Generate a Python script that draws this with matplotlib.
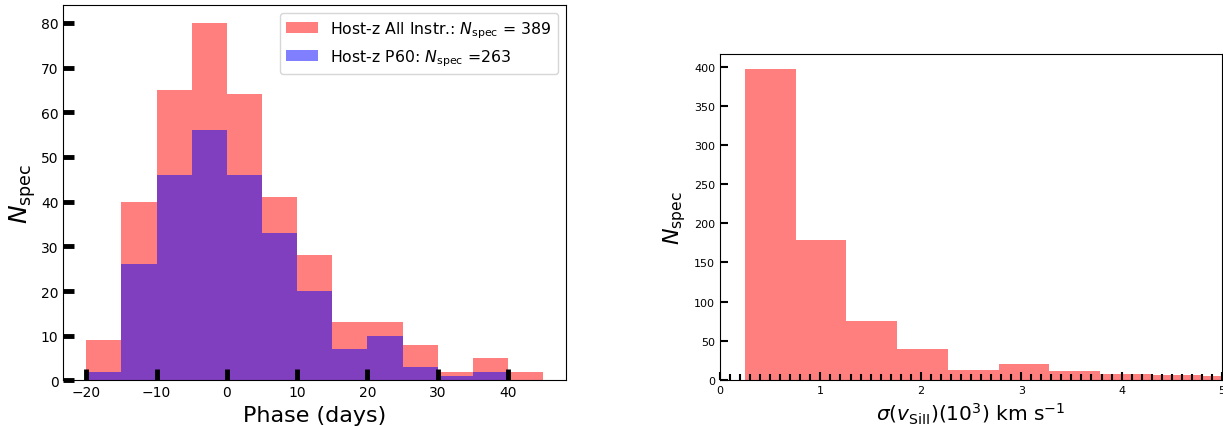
import matplotlib
matplotlib.use("Agg")
import matplotlib.pyplot as plt
from matplotlib.ticker import MultipleLocator
import numpy as np

# Phase histogram (days), 5-day bins
phase_edges = [-20, -15, -10, -5, 0, 5, 10, 15, 20, 25, 30, 35, 40, 45]
counts_all = [9, 40, 65, 80, 64, 41, 28, 13, 13, 8, 2, 5, 2]
counts_p60 = [2, 26, 46, 56, 46, 33, 20, 7, 10, 3, 1, 2, 0]
n_all = 389
n_p60 = 263

# Si II velocity dispersion histogram (10^3 km/s)
sigma_edges = [0.25, 0.755, 1.26, 1.765, 2.27, 2.775, 3.28, 3.785, 4.29, 4.795, 5.30]
counts_sigma = [397, 179, 75, 40, 13, 20, 11, 7, 6, 5]

fig = plt.figure(figsize=(12.23, 4.27), dpi=100)

# ---- left panel: phase distribution ----
ax1 = fig.add_axes([0.0518, 0.1066, 0.4110, 0.8794])
ax1.hist(phase_edges[:-1], bins=phase_edges, weights=counts_all,
         color="red", alpha=0.5,
         label=r"Host-z All Instr.: $N_{\rm spec}$ = %d" % n_all)
ax1.hist(phase_edges[:-1], bins=phase_edges, weights=counts_p60,
         color="blue", alpha=0.5,
         label=r"Host-z P60: $N_{\rm spec}$ =%d" % n_p60)
ax1.xaxis.set_major_locator(MultipleLocator(10))
ax1.yaxis.set_major_locator(MultipleLocator(10))
ax1.tick_params(axis="both", which="major", direction="in", length=8,
                width=3.5, labelsize=10)
ax1.set_xlabel("Phase (days)", fontsize=16)
ax1.set_ylabel(r"$N_{\rm spec}$", fontsize=18, labelpad=2)
ax1.legend(loc="upper right", fontsize=11.3)

# ---- right panel: sigma(v_SiII) distribution ----
ax2 = fig.add_axes([0.5887, 0.1080, 0.4105, 0.7640])
ax2.hist(sigma_edges[:-1], bins=sigma_edges, weights=counts_sigma,
         color="red", alpha=0.5)
ax2.set_xlim(0, 5)
ax2.xaxis.set_major_locator(MultipleLocator(1))
ax2.xaxis.set_minor_locator(MultipleLocator(0.1))
ax2.yaxis.set_major_locator(MultipleLocator(50))
ax2.tick_params(axis="both", which="major", direction="in", length=6,
                width=1.5, labelsize=8)
ax2.tick_params(axis="x", which="minor", direction="in", length=4, width=1.5)
ax2.set_xlabel(r"$\sigma(v_{\rm SiII})(10^3)$ km s$^{-1}$", fontsize=14.5)
ax2.set_ylabel(r"$N_{\rm spec}$", fontsize=16)

fig.savefig("out.png", dpi=100)
